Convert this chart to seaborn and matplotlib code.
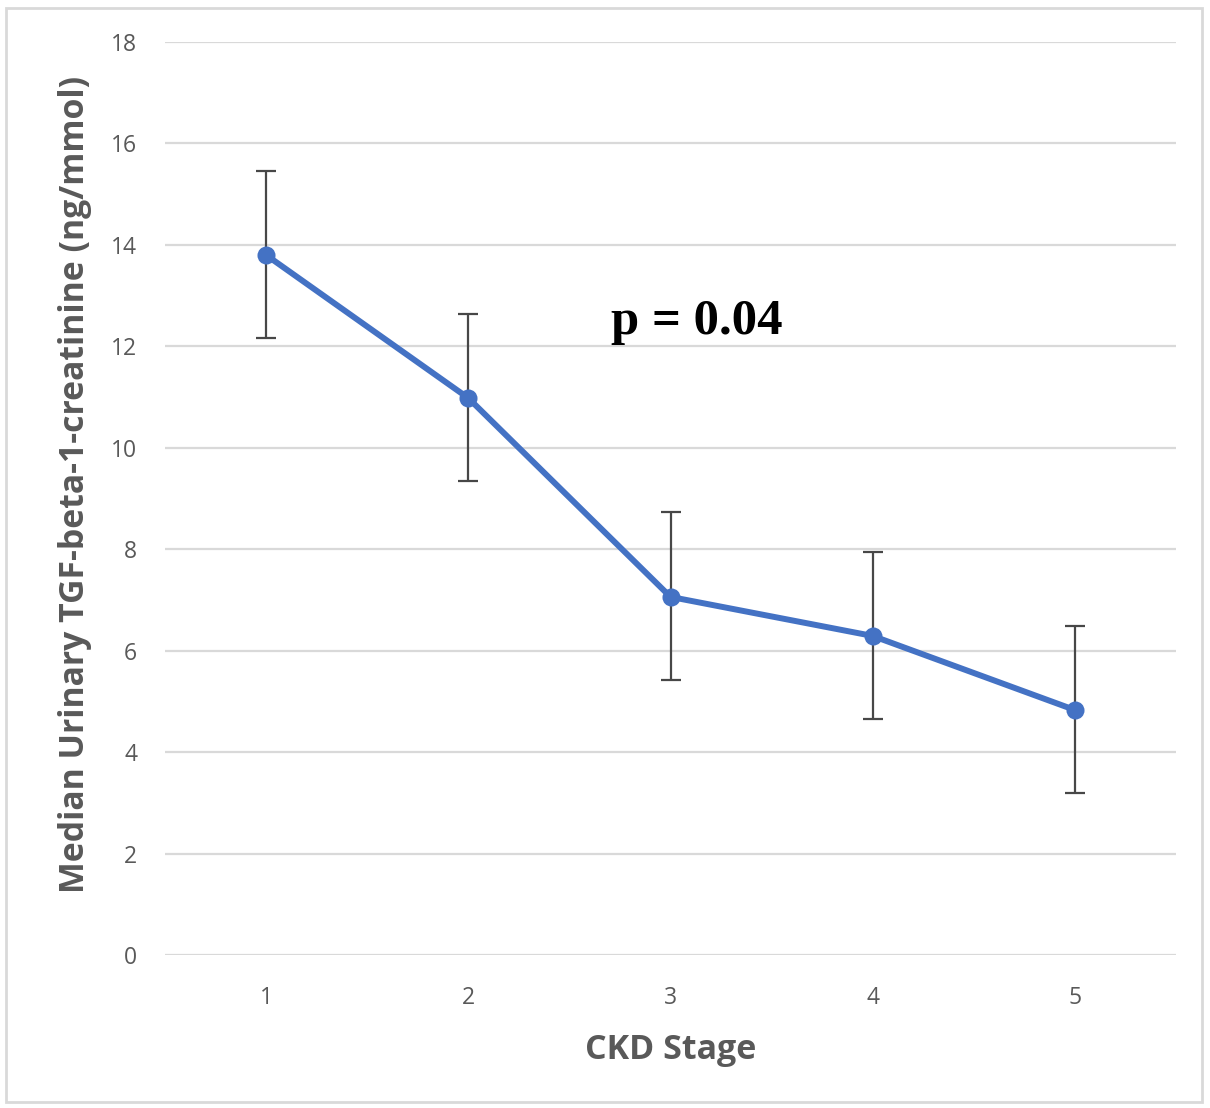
import matplotlib
matplotlib.use("Agg")
import matplotlib.pyplot as plt
import seaborn as sns
import pandas as pd
from matplotlib.patches import Rectangle

stages = [1, 2, 3, 4, 5]
medians = [13.80, 10.98, 7.06, 6.29, 4.83]
err_lower = [1.64, 1.64, 1.63, 1.64, 1.64]
err_upper = [1.66, 1.66, 1.67, 1.66, 1.66]
yticks = [0, 2, 4, 6, 8, 10, 12, 14, 16, 18]

df = pd.DataFrame({"stage": stages, "median": medians})

sns.set_theme(style="white")
plt.rcParams['font.family'] = ['Open Sans', 'DejaVu Sans']

fig = plt.figure(figsize=(12.1, 11.08), dpi=100)
ax = fig.add_axes([165/1210, 1-955/1108, (1176-165)/1210, (955-42)/1108])

ax.errorbar(df["stage"], df["median"], yerr=[err_lower, err_upper], fmt='none',
            ecolor='#474747', elinewidth=1.6, capsize=7.5, capthick=1.6, zorder=2)
sns.lineplot(data=df, x="stage", y="median", ax=ax, color='#4472C4', linewidth=4.3,
             marker='o', markersize=13, markeredgewidth=0, zorder=3)

ax.set_xlim(0.5, 5.5)
ax.set_ylim(0, 18)
ax.set_yticks(yticks)
ax.set_xticks(stages)
ax.set_xticklabels([str(s) for s in stages])
ax.yaxis.grid(True, color='#D9D9D9', linewidth=1.6)
ax.set_axisbelow(True)
for s in ax.spines.values():
    s.set_visible(False)
ax.tick_params(axis='both', length=0, labelsize=16.5, labelcolor='#595959')
ax.tick_params(axis='y', pad=20)
ax.tick_params(axis='x', pad=22)

ax.set_xlabel("CKD Stage", fontsize=24.5, fontweight='bold', color='#595959', labelpad=17)
ax.set_ylabel("Median Urinary TGF-beta-1-creatinine (ng/mmol)", fontsize=24.3,
              fontweight='bold', color='#595959', labelpad=14)
ax.yaxis.label.set_y(0.515)

ax.text(3.13, 12.25, "p = 0.04", fontsize=36.5, fontweight='bold',
        family=['Liberation Serif', 'DejaVu Serif'], color='black',
        ha='center', va='baseline')

fig.patches.append(Rectangle((6/1210, 1-1102/1108), 1196/1210, 1094/1108,
                             transform=fig.transFigure, fill=False,
                             edgecolor='#D9D9D9', linewidth=2))

fig.savefig("out.png", dpi=100)
